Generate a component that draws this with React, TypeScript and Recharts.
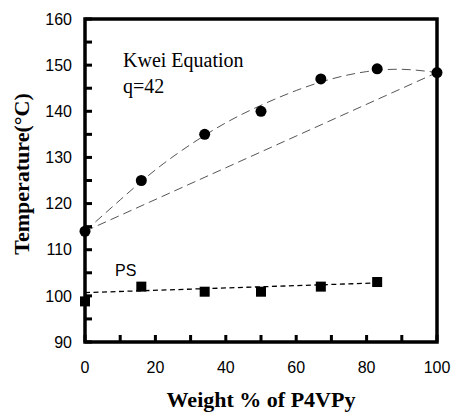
import React from 'react';
import {
  ComposedChart,
  Line,
  Scatter,
  XAxis,
  YAxis,
  ReferenceArea,
  Label,
} from 'recharts';

// Measured glass transition temperatures, P4VPy blends
const p4vpyWeight = [0, 16, 34, 50, 67, 83, 100];
const blendTg = [114, 125, 135, 140, 147, 149.2, 148.4];

// PS series
const psWeight = [0, 16, 34, 50, 67, 83];
const psTg = [98.8, 102, 100.9, 100.9, 102, 103];

// Kwei equation curve (q = 42), sampled every 10 wt%
const kweiWeight = [0, 10, 20, 30, 40, 50, 60, 70, 80, 90, 100];
const kweiTg = [114, 120.8, 127.3, 132.8, 137.5, 141.3, 144.5, 147, 148.6, 149.1, 148.4];

// Linear additivity line between the pure components
const linearWeight = [0, 100];
const linearTg = [114, 148.4];

// Trend line through the PS points
const psFitWeight = [0, 83];
const psFitTg = [100.7, 102.8];

const xTicks = [0, 10, 20, 30, 40, 50, 60, 70, 80, 90, 100];
const xTickLabels = [0, 20, 40, 60, 80, 100];
const yTicks = [90, 95, 100, 105, 110, 115, 120, 125, 130, 135, 140, 145, 150, 155, 160];
const yTickLabels = [90, 100, 110, 120, 130, 140, 150, 160];

const X_MIN = 0;
const X_MAX = 100;
const Y_MIN = 90;
const Y_MAX = 160;

const zip = (xs: number[], ys: number[]) => xs.map((x, i) => ({ x, y: ys[i] }));

const blendData = zip(p4vpyWeight, blendTg);
const psData = zip(psWeight, psTg);
const kweiData = zip(kweiWeight, kweiTg);
const linearData = zip(linearWeight, linearTg);
const psFitData = zip(psFitWeight, psFitTg);

// Closed box around the plotting area
const frameData = [
  { x: X_MIN, y: Y_MIN },
  { x: X_MIN, y: Y_MAX },
  { x: X_MAX, y: Y_MAX },
  { x: X_MAX, y: Y_MIN },
  { x: X_MIN, y: Y_MIN },
];
// Inward tick marks on the bottom and left edges
const xTickMarks = xTicks.map((x) => ({ x, y: Y_MIN }));
const yTickMarks = yTicks.map((y) => ({ x: X_MIN, y }));

const TICK_FONT = 'Arial, "Liberation Sans", sans-serif';
const SERIF = '"Times New Roman", "Liberation Serif", serif';
const Y_MARGIN = 13;
const X_MARGIN = 20;

const YTick = (props: any) => {
  const v = props.payload.value;
  if (!yTickLabels.includes(v)) return <g />;
  return (
    <text x={props.x} y={props.y} dy="0.36em" textAnchor="end" fontFamily={TICK_FONT} fontSize={16} fill="#000">
      {v}
    </text>
  );
};

const XTick = (props: any) => {
  const v = props.payload.value;
  if (!xTickLabels.includes(v)) return <g />;
  return (
    <text x={props.x} y={props.y} dy="0.71em" textAnchor="middle" fontFamily={TICK_FONT} fontSize={16} fill="#000">
      {v}
    </text>
  );
};

const Dot = (props: any) => <circle cx={props.cx} cy={props.cy} r={5.5} fill="#000" />;
const Square = (props: any) => (
  <rect x={props.cx - 5} y={props.cy - 5} width={10} height={10} fill="#000" />
);
const XMark = (props: any) => (
  <rect x={props.cx - 1.5} y={props.cy - 7} width={3} height={7} fill="#000" />
);
const YMark = (props: any) => (
  <rect x={props.cx} y={props.cy - 1.5} width={7} height={3} fill="#000" />
);

export default function App() {
  return (
    <div style={{ position: 'absolute', left: 0, top: 0, width: 451, height: 412 }}>
      <ComposedChart
        width={451}
        height={412}
        margin={{ top: 19, right: 14, bottom: 0, left: 0 }}
      >
        <XAxis
          type="number"
          dataKey="x"
          domain={[X_MIN, X_MAX]}
          ticks={xTicks}
          interval={0}
          height={70}
          axisLine={false}
          tickLine={false}
          tickSize={0}
          tickMargin={X_MARGIN}
          tick={<XTick />}
        >
          <Label
            content={() => (
              <text x={261} y={407} textAnchor="middle" fontFamily={SERIF} fontWeight="bold" fontSize={22} fill="#000">
                Weight % of P4VPy
              </text>
            )}
          />
        </XAxis>
        <YAxis
          type="number"
          domain={[Y_MIN, Y_MAX]}
          ticks={yTicks}
          interval={0}
          width={85}
          axisLine={false}
          tickLine={false}
          tickSize={0}
          tickMargin={Y_MARGIN}
          tick={<YTick />}
        >
          <Label
            content={() => (
              <text
                x={29}
                y={174}
                transform="rotate(-90, 29, 174)"
                textAnchor="middle"
                fontFamily={SERIF}
                fontWeight="bold"
                fontSize={22}
                fill="#000"
              >
                Temperature(°C)
              </text>
            )}
          />
        </YAxis>
        <ReferenceArea
          x1={X_MIN}
          x2={X_MAX}
          y1={Y_MIN}
          y2={Y_MAX}
          fill="none"
          stroke="none"
          ifOverflow="visible"
          label={{
            content: () => (
              <g>
                <text x={123} y={67} fontFamily={SERIF} fontSize={20} fill="#000">Kwei Equation</text>
                <text x={123} y={93} fontFamily={SERIF} fontSize={20} fill="#000">q=42</text>
                <text x={115} y={276} fontFamily={TICK_FONT} fontSize={16} fill="#000">PS</text>
              </g>
            ),
          }}
        />
        <Line
          data={frameData}
          dataKey="y"
          type="linear"
          stroke="#000"
          strokeWidth={3.5}
          strokeLinejoin="miter"
          strokeLinecap="square"
          dot={false}
          activeDot={false}
          isAnimationActive={false}
        />
        <Scatter data={xTickMarks} dataKey="y" shape={<XMark />} isAnimationActive={false} />
        <Scatter data={yTickMarks} dataKey="y" shape={<YMark />} isAnimationActive={false} />
        <Line
          data={kweiData}
          dataKey="y"
          type="natural"
          stroke="#555"
          strokeWidth={1}
          strokeDasharray="9 5"
          dot={false}
          isAnimationActive={false}
        />
        <Line
          data={linearData}
          dataKey="y"
          type="linear"
          stroke="#555"
          strokeWidth={1}
          strokeDasharray="9 5"
          dot={false}
          isAnimationActive={false}
        />
        <Line
          data={psFitData}
          dataKey="y"
          type="linear"
          stroke="#000"
          strokeWidth={1.3}
          strokeDasharray="5 3.5"
          dot={false}
          isAnimationActive={false}
        />
        <Scatter data={blendData} dataKey="y" shape={<Dot />} isAnimationActive={false} />
        <Scatter data={psData} dataKey="y" shape={<Square />} isAnimationActive={false} />
      </ComposedChart>
    </div>
  );
}
